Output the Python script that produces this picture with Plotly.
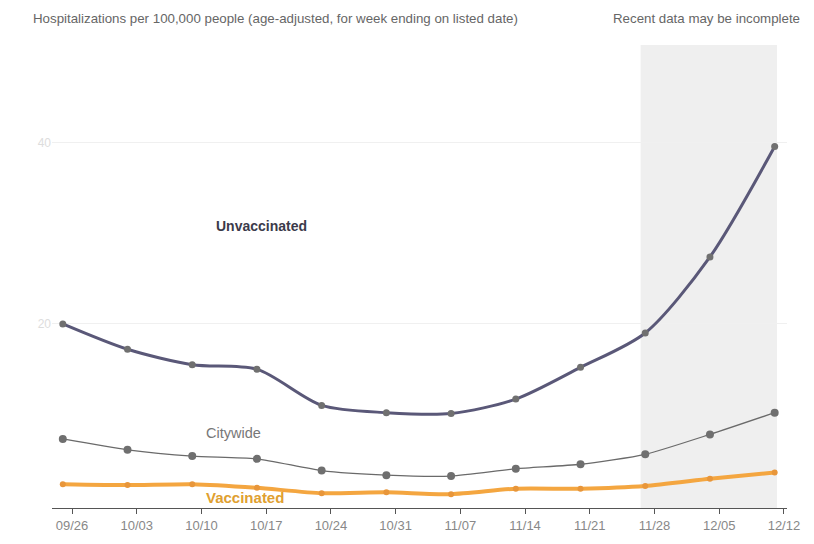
import plotly.graph_objects as go

# week-ending dates (data) and tick labels
data_dates = ["2021-09-25", "2021-10-02", "2021-10-09", "2021-10-16", "2021-10-23", "2021-10-30",
              "2021-11-06", "2021-11-13", "2021-11-20", "2021-11-27", "2021-12-04", "2021-12-11"]
tick_dates = ["2021-09-26", "2021-10-03", "2021-10-10", "2021-10-17", "2021-10-24", "2021-10-31",
              "2021-11-07", "2021-11-14", "2021-11-21", "2021-11-28", "2021-12-05", "2021-12-12"]
tick_labels = ["09/26", "10/03", "10/10", "10/17", "10/24", "10/31",
               "11/07", "11/14", "11/21", "11/28", "12/05", "12/12"]

unvaccinated = [20.0, 17.2, 15.5, 15.0, 11.0, 10.2, 10.1, 11.7, 15.2, 19.0, 27.4, 39.6]
citywide = [7.3, 6.1, 5.4, 5.1, 3.8, 3.3, 3.2, 4.0, 4.5, 5.6, 7.8, 10.2]
vaccinated = [2.3, 2.2, 2.3, 1.9, 1.3, 1.4, 1.2, 1.8, 1.8, 2.1, 2.9, 3.6]

incomplete_start = "2021-11-26 12:00"
incomplete_end = "2021-12-11 06:00"

FONT = "Liberation Sans, Arial"

fig = go.Figure()

fig.add_trace(go.Scatter(
    x=data_dates, y=vaccinated, mode="lines+markers",
    line=dict(color="#f4a640", width=4, shape="spline", smoothing=0.6),
    marker=dict(color="#e8963a", size=6), hoverinfo="skip"))
fig.add_trace(go.Scatter(
    x=data_dates, y=citywide, mode="lines+markers",
    line=dict(color="#6a6a6a", width=1.3, shape="spline", smoothing=0.6),
    marker=dict(color="#6f6f6f", size=8), hoverinfo="skip"))
fig.add_trace(go.Scatter(
    x=data_dates, y=unvaccinated, mode="lines+markers",
    line=dict(color="#5a5878", width=3, shape="spline", smoothing=0.8),
    marker=dict(color="#707070", size=7), hoverinfo="skip"))

fig.add_shape(type="rect", xref="x", yref="paper",
              x0=incomplete_start, x1=incomplete_end, y0=0, y1=1,
              fillcolor="#efefef", line=dict(width=0), layer="between")

fig.add_annotation(text="<b>Unvaccinated</b>", x="2021-10-16 12:00", y=30.8, xref="x", yref="y",
                   showarrow=False, font=dict(family=FONT, size=14, color="#3b3a4a"))
fig.add_annotation(text="Citywide", x="2021-10-13 12:00", y=7.9, xref="x", yref="y",
                   showarrow=False, font=dict(family=FONT, size=14.5, color="#777777"))
fig.add_annotation(text="<b>Vaccinated</b>", x="2021-10-14 18:00", y=0.82, xref="x", yref="y",
                   showarrow=False, font=dict(family=FONT, size=15, color="#e0a030"))

fig.add_annotation(text="Hospitalizations per 100,000 people (age-adjusted, for week ending on listed date)",
                   x=-0.029, xref="paper", y=1.058, yref="paper", xanchor="left", yanchor="middle",
                   showarrow=False, font=dict(family=FONT, size=13.3, color="#666666"))
fig.add_annotation(text="Recent data may be incomplete",
                   x=1.021, xref="paper", y=1.058, yref="paper", xanchor="right", yanchor="middle",
                   showarrow=False, font=dict(family=FONT, size=13.3, color="#666666"))

fig.update_layout(
    width=814, height=544,
    margin=dict(l=44, r=35, t=37, b=44),
    paper_bgcolor="white", plot_bgcolor="white",
    showlegend=False,
    xaxis=dict(type="date", range=["2021-09-23 20:00", "2021-12-12 08:00"],
               tickvals=tick_dates, ticktext=tick_labels,
               showgrid=False, zeroline=False,
               showline=True, linecolor="#555555", linewidth=1.2,
               ticks="outside", ticklen=5, tickcolor="#555555",
               tickfont=dict(family=FONT, size=13, color="#888888")),
    yaxis=dict(range=[-0.33, 50.8], tickvals=[20, 40], ticktext=["20", "40"],
               showgrid=True, gridcolor="#f0f0f0", gridwidth=1,
               zeroline=False, showline=False, ticks="",
               tickfont=dict(family=FONT, size=12, color="#dddddd")),
)

fig.write_html("out.html")
